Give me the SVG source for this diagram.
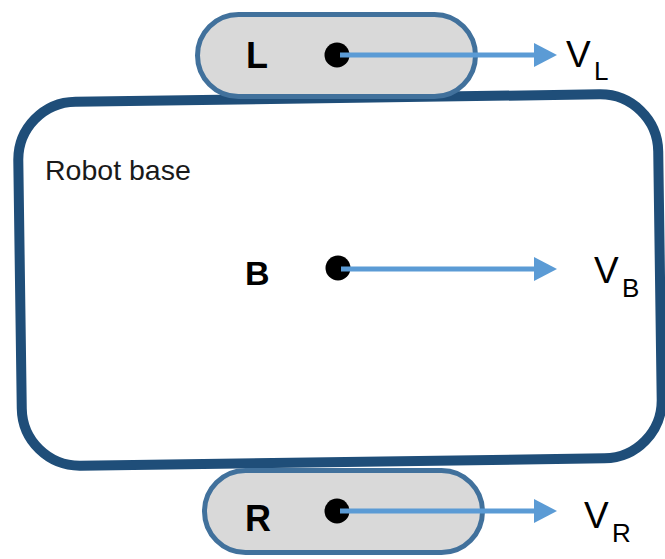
<svg xmlns="http://www.w3.org/2000/svg" width="665" height="559" viewBox="0 0 665 559">
  <style>
    .base { fill: #ffffff; stroke: #1f4e79; stroke-width: 10; }
    .wheel { fill: #d9d9d9; stroke: #41719c; stroke-width: 5; }
    .dot { fill: #000000; }
    .vec { stroke: #5b9bd5; stroke-width: 5; fill: none; marker-end: url(#head); }
    .tag { font-family: "Liberation Sans", Arial, sans-serif; font-weight: bold; fill: #000000; }
    .title { font-family: "Liberation Sans", Arial, sans-serif; font-size: 28.5px; fill: #1a1a1a; }
    .v { font-family: "Liberation Sans", Arial, sans-serif; font-size: 37px; fill: #000000; }
    .sub { font-family: "Liberation Sans", Arial, sans-serif; font-size: 26px; fill: #000000; }
  </style>
  <defs>
    <marker id="head" markerUnits="userSpaceOnUse" viewBox="0 -13 24 26" markerWidth="24" markerHeight="26" refX="1" refY="0" orient="auto">
      <path d="M0,-12 L23,0 L0,12 Z" fill="#5b9bd5"/>
    </marker>
  </defs>

  <!-- chassis body, slightly tilted -->
  <g id="robot-base">
    <rect class="base" x="20" y="98" width="640" height="364" rx="58" ry="58" transform="rotate(-0.8 340 280)"/>
    <text class="title" x="45" y="180">Robot base</text>
    <text class="tag" x="245" y="285" font-size="34">B</text>
    <circle class="dot" cx="338" cy="268" r="12.5"/>
  </g>

  <!-- left wheel -->
  <g id="wheel-left">
    <rect class="wheel" x="197.5" y="14.5" width="278" height="82" rx="41" ry="41"/>
    <text class="tag" x="246" y="68" font-size="36">L</text>
    <circle class="dot" cx="337" cy="55" r="12.5"/>
  </g>

  <!-- right wheel -->
  <g id="wheel-right">
    <rect class="wheel" x="204.5" y="470.5" width="278" height="82" rx="41" ry="41"/>
    <text class="tag" x="245" y="531" font-size="36">R</text>
    <circle class="dot" cx="337" cy="511" r="12.5"/>
  </g>

  <!-- velocity vectors -->
  <g id="connectors">
    <line class="vec" x1="340" y1="55" x2="535" y2="55"/>
    <line class="vec" x1="341" y1="269" x2="535" y2="269"/>
    <line class="vec" x1="340" y1="511" x2="535" y2="511"/>
    <text class="v" x="566" y="67">V</text><text class="sub" x="594" y="80">L</text>
    <text class="v" x="594" y="283">V</text><text class="sub" x="622" y="297">B</text>
    <text class="v" x="584" y="528">V</text><text class="sub" x="612" y="542">R</text>
  </g>
</svg>
